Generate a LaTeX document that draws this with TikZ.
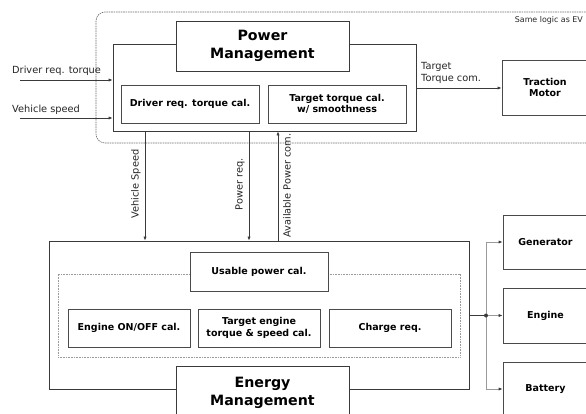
\documentclass[tikz,border=0pt]{standalone}
\usepackage{fontspec}
\setmainfont{DejaVu Sans}
\usetikzlibrary{arrows.meta}
\definecolor{ln}{HTML}{3A3A3A}
\definecolor{bx}{HTML}{4A4A4A}
\definecolor{lt}{HTML}{9A9A9A}
\definecolor{fr}{HTML}{707070}
\tikzset{
  box/.style={draw=bx, line width=0.75pt, fill=white, inner sep=1pt, align=center,
    font=\bfseries\fontsize{9.5}{11.5}\selectfont},
  titlebox/.style={draw=ln, line width=0.75pt, fill=white, inner sep=1pt, align=center,
    font=\bfseries\fontsize{14.2}{18}\selectfont},
  frame/.style={draw=ln, line width=0.75pt, fill=white},
  lbl/.style={inner sep=0pt, font=\fontsize{9.8}{12}\selectfont, text=black!85},
  arr/.style={draw=ln, line width=0.7pt, -{Latex[length=4pt,width=3.2pt]}},
  larr/.style={draw=lt, line width=1pt, -{Latex[length=4pt,width=3.2pt,color=ln]}},
}
\begin{document}
\begin{tikzpicture}[x=1pt,y=-1pt]
\useasboundingbox (0,0) rectangle (586,414);
\clip (0,0) rectangle (586,414);
\fill[white] (0,0) rectangle (586,414);

% dashed outer frame (same logic as EV)
\draw[fr, line width=0.6pt, dash pattern=on 1.6pt off 0.8pt, rounded corners=9pt]
  (600,12) -- (96,12) -- (96,143) -- (600,143);
\node[anchor=east, inner sep=0pt, font=\fontsize{7.9}{9}\selectfont, text=black!85] (same) at (583,20) {Same logic as EV};

% Power management
\node[frame, minimum width=303pt, minimum height=87pt, inner sep=0pt] (pm) at (264.5,87.5) {};
\node[titlebox, minimum width=173pt, minimum height=50pt] (pmt) at (262.5,46) {Power\\Management};
\node[box, minimum width=138pt, minimum height=38pt] (drt) at (190,104) {Driver req. torque cal.};
\node[box, minimum width=138pt, minimum height=38pt] (ttc) at (337,104) {Target torque cal.\\w/ smoothness};

% traction motor
\node[box, minimum width=86pt, minimum height=55pt] (tm) at (545,87.5) {Traction\\Motor};

% inputs
\coordinate (in1) at (20,80);
\coordinate (in2) at (20,118);
\draw[arr] (in1) -- (pm.west |- in1);
\draw[arr] (in2) -- (pm.west |- in2);
\node[lbl, anchor=west] (l1) at (12,71) {Driver req. torque};
\node[lbl, anchor=west] (l2) at (12,110) {Vehicle speed};

% target torque com
\coordinate (tq) at (416,88);
\draw[arr] (pm.east |- tq) -- (tm.west |- tq);
\node[lbl, anchor=west, align=left] (l3) at (421,73) {Target\\Torque com.};

% Energy management
\node[frame, minimum width=420pt, minimum height=148pt, inner sep=0pt] (em) at (259,315) {};
\node[draw=lt, line width=0.8pt, dash pattern=on 0.8pt off 0.8pt, minimum width=402pt, minimum height=83pt, inner sep=0pt] (dot) at (259,315.5) {};
\node[box, minimum width=138pt, minimum height=39pt] (up) at (259,271.5) {Usable power cal.};
\node[box, minimum width=122pt, minimum height=38pt] (eo) at (129,328) {Engine ON/OFF cal.};
\node[box, minimum width=122pt, minimum height=38pt] (te) at (259,328) {Target engine\\torque \& speed cal.};
\node[box, minimum width=122pt, minimum height=38pt] (cr) at (390,328) {Charge req.};
\node[titlebox, minimum width=173pt, minimum height=54pt] (emt) at (262.5,393) {Energy\\Management};

% vertical connections
\coordinate (vx) at (145,0);
\coordinate (px) at (249,0);
\coordinate (ax) at (278,0);
\draw[arr] (pm.south -| vx) -- (em.north -| vx);
\draw[arr] (pm.south -| px) -- (em.north -| px);
\draw[arr] (em.north -| ax) -- (pm.south -| ax);
\node[lbl, rotate=90] (l4) at (136,184) {Vehicle Speed};
\node[lbl, rotate=90] (l5) at (240,184.5) {Power req.};
\node[lbl, rotate=90] (l6) at (287,185.5) {Available Power com.};

% actuators
\node[box, minimum width=85pt, minimum height=54pt] (gen) at (545.5,242) {Generator};
\node[box, minimum width=85pt, minimum height=55pt] (eng) at (545.5,315.5) {Engine};
\node[box, minimum width=85pt, minimum height=54pt] (bat) at (545.5,389) {Battery};

\coordinate (j) at (486,315.5);
\draw[larr] (j) |- (gen.west);
\draw[larr] (j) |- (bat.west);
\draw[larr] (j) -- (eng.west);
\draw[ln, line width=0.75pt] (em.east |- j) -- (j);
\fill[ln] (j) circle (2pt);
\end{tikzpicture}
\end{document}
